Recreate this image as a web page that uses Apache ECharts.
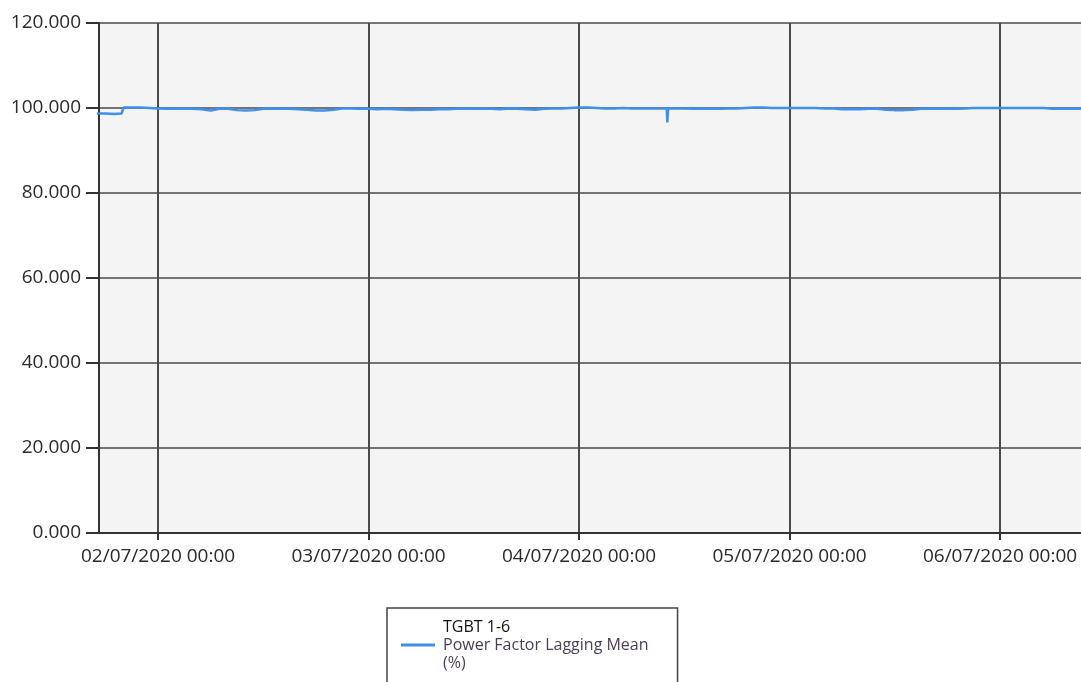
<!DOCTYPE html>
<html>
<head>
<meta charset="utf-8">
<script src="https://cdn.jsdelivr.net/npm/echarts@6/dist/echarts.min.js"></script>
<style>
html,body{margin:0;padding:0;background:#fff;}
#chart{width:1081px;height:682px;}
</style>
</head>
<body>
<div id="chart"></div>
<script>
// ---- data ----
const seriesName = 'Power Factor Lagging Mean';
const legendTitle = 'TGBT 1-6';
const legendUnit = '(%)';
const sampleStart = Date.UTC(2020, 6, 1, 17, 0); // hourly samples from 01/07/2020 17:00
const hourlyValues = [
  98.7, 98.7, 98.6, 98.7, 100.1, 100.1, 100.0,
  99.9, 99.8, 99.8, 99.8, 99.8, 99.7, 99.4, 99.8, 99.8, 99.5, 99.4, 99.5, 99.8, 99.9, 99.8, 99.8, 99.7,
  99.6, 99.4, 99.4, 99.6, 99.9, 99.9, 99.8,
  99.8, 99.7, 99.8, 99.7, 99.6, 99.5, 99.6, 99.6, 99.7, 99.7, 99.8, 99.8, 99.8, 99.9, 99.8, 99.7, 99.9,
  99.8, 99.7, 99.6, 99.8, 99.9, 99.9, 100.0,
  100.1, 100.1, 100.0, 99.9, 99.9, 100.0, 99.9, 99.9, 99.9, 99.9, 99.9, 99.9, 99.9, 99.8, 99.8, 99.8, 99.8, 99.9,
  99.9, 100.0, 100.1, 100.1, 100.0, 100.0,
  100.0, 100.0, 100.0, 100.0, 99.9, 99.9, 99.7, 99.7, 99.7, 99.8, 99.8, 99.6, 99.5, 99.5, 99.6,
  99.8, 99.8, 99.8, 99.8, 99.8, 99.9, 100.0, 100.0, 100.0,
  100.0, 100.0, 100.0, 100.0, 100.0, 100.0, 99.8, 99.8, 99.8, 99.8, 99.8
];
// extra short-interval readings (the step at the start and the brief dip on 04/07)
const extraSamples = [
  [Date.UTC(2020, 6, 1, 19, 50), 98.7],
  [Date.UTC(2020, 6, 1, 20, 5), 100.1],
  [Date.UTC(2020, 6, 4, 10, 2), 99.9],
  [Date.UTC(2020, 6, 4, 10, 4), 96.6],
  [Date.UTC(2020, 6, 4, 10, 8), 96.6],
  [Date.UTC(2020, 6, 4, 10, 10), 99.9]
];
const xMin = Date.UTC(2020, 6, 1, 17, 16);
const xMax = Date.UTC(2020, 6, 6, 9, 14);
const dayTicks = [
  Date.UTC(2020, 6, 2), Date.UTC(2020, 6, 3), Date.UTC(2020, 6, 4),
  Date.UTC(2020, 6, 5), Date.UTC(2020, 6, 6)
];
const yMin = 0, yMax = 120, yStep = 20;

// ---- build ----
const HOUR = 3600000;
let points = hourlyValues.map((v, i) => [sampleStart + i * HOUR, v]);
points = points.concat(extraSamples).sort((a, b) => a[0] - b[0]);

function pad(n) { return (n < 10 ? '0' : '') + n; }
function fmtDate(ms) {
  const d = new Date(ms);
  return pad(d.getUTCDate()) + '/' + pad(d.getUTCMonth() + 1) + '/' + d.getUTCFullYear() +
    ' ' + pad(d.getUTCHours()) + ':' + pad(d.getUTCMinutes());
}

const FONT = '"Open Sans", "Noto Sans", sans-serif';
const gridCol = '#4a4a4a';
const lineCol = '#3f8fee';
const chart = echarts.init(document.getElementById('chart'), null, { renderer: 'canvas' });
chart.setOption({
  animation: false,
  backgroundColor: '#ffffff',
  grid: {
    left: 99, top: 23, right: 0, bottom: 149,
    show: true, backgroundColor: '#f4f4f4', borderWidth: 0
  },
  xAxis: {
    type: 'value',
    min: xMin, max: xMax,
    axisLine: { show: true, lineStyle: { color: '#333', width: 2 } },
    axisTick: { show: true, length: 7, customValues: dayTicks, lineStyle: { color: '#333', width: 2 } },
    axisLabel: {
      customValues: dayTicks, formatter: fmtDate, margin: 14,
      color: '#2a2a2a', fontFamily: FONT, fontSize: 19
    },
    splitLine: { show: true, lineStyle: { color: gridCol, width: 2 } }
  },
  yAxis: {
    type: 'value',
    min: yMin, max: yMax, interval: yStep,
    axisLine: { show: true, lineStyle: { color: '#333', width: 2 } },
    axisTick: { show: true, length: 13, lineStyle: { color: '#333', width: 2 } },
    axisLabel: {
      formatter: v => v.toFixed(3), margin: 18,
      color: '#2a2a2a', fontFamily: FONT, fontSize: 19
    },
    splitLine: { show: true, lineStyle: { color: gridCol, width: 1.5 } }
  },
  legend: {
    show: true,
    left: 387, top: 608,
    orient: 'vertical',
    padding: [11, 29, 40, 14],
    backgroundColor: '#ffffff',
    borderColor: '#444', borderWidth: 1.5,
    itemWidth: 34, itemHeight: 3, itemGap: 0,
    icon: 'rect',
    selectedMode: false,
    data: [{ name: seriesName, itemStyle: { color: lineCol } }],
    formatter: name => '{a|' + legendTitle + '}\n{b|' + name + '}\n{b|' + legendUnit + '}',
    textStyle: {
      fontFamily: FONT, fontSize: 16,
      rich: {
        a: { color: '#111', fontFamily: FONT, fontSize: 16, lineHeight: 18, padding: [0, 0, 0, 3] },
        b: { color: '#4b3d58', fontFamily: FONT, fontSize: 16, lineHeight: 18, padding: [0, 0, 0, 3] }
      }
    }
  },
  series: [{
    name: seriesName,
    type: 'line',
    data: points,
    showSymbol: false,
    clip: true,
    lineStyle: { color: lineCol, width: 2.5 },
    itemStyle: { color: lineCol }
  }]
});
</script>
</body>
</html>
